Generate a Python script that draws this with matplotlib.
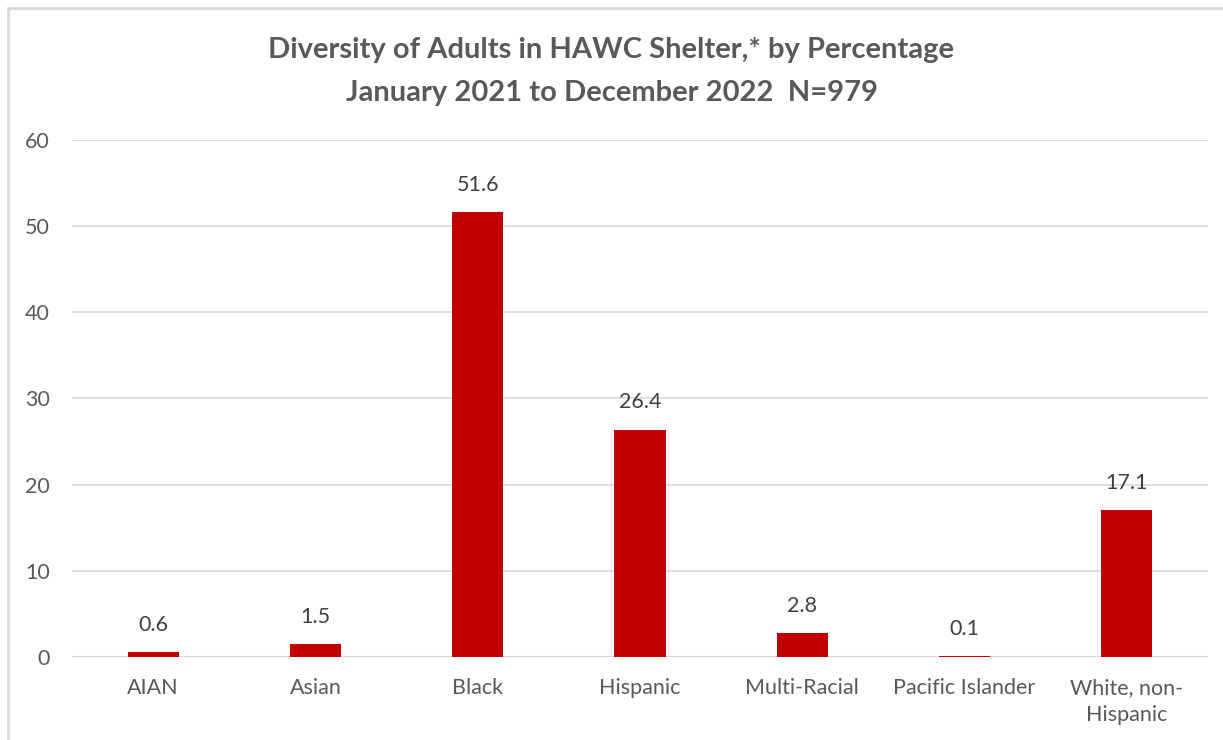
import numpy as np
import matplotlib.pyplot as plt
from matplotlib.patches import Rectangle

plt.rcParams['font.family'] = ['Lato', 'DejaVu Sans']

categories = ['AIAN', 'Asian', 'Black', 'Hispanic', 'Multi-Racial',
              'Pacific Islander', 'White, non-\nHispanic']
values = [0.6, 1.5, 51.6, 26.4, 2.8, 0.1, 17.1]
yticks = [0, 10, 20, 30, 40, 50, 60]

text_color = '#595959'
bar_color = '#C00000'
grid_color = '#D9D9D9'

fig = plt.figure(figsize=(12.23, 7.40), dpi=100)
ax = fig.add_axes([0.0589, 0.1122, 0.9288, 0.6986])

# chart border like the Excel chart area
fig.patches.append(Rectangle((8 / 1223, -0.1), 1.2, 1 - 8 / 740 + 0.1,
                             transform=fig.transFigure, fill=False,
                             edgecolor='#D9D9D9', linewidth=2))

x = np.arange(len(categories))
bars = ax.bar(x, values, width=0.315, color=bar_color, zorder=3)
for xi, v in zip(x, values):
    ax.annotate(f'{v:.1f}', (xi, v), xytext=(0, 19.5),
                textcoords='offset points', ha='center', va='center',
                fontsize=15.5, color='#404040')

ax.set_xlim(-0.5, len(categories) - 0.5)
ax.set_ylim(0, 60)
ax.set_yticks(yticks)
ax.set_xticks(x, categories)
ax.yaxis.grid(True, color=grid_color, linewidth=1.2)
ax.set_axisbelow(True)
for s in ax.spines.values():
    s.set_visible(False)
ax.tick_params(length=0, labelsize=15.5, colors=text_color)
ax.tick_params(axis='y', pad=16)
ax.tick_params(axis='x', pad=15)
for lab in ax.get_xticklabels():
    lab.set_linespacing(1.45)
ax.axhline(0, color=grid_color, linewidth=1.5, zorder=2)

fig.text(0.5, 1 - 50 / 740, 'Diversity of Adults in HAWC Shelter,* by Percentage',
         ha='center', va='center', fontsize=21, fontweight='bold',
         color=text_color)
fig.text(0.5, 1 - 93 / 740, 'January 2021 to December 2022  N=979',
         ha='center', va='center', fontsize=21, fontweight='bold',
         color=text_color)

plt.savefig('out.png', dpi=100)
